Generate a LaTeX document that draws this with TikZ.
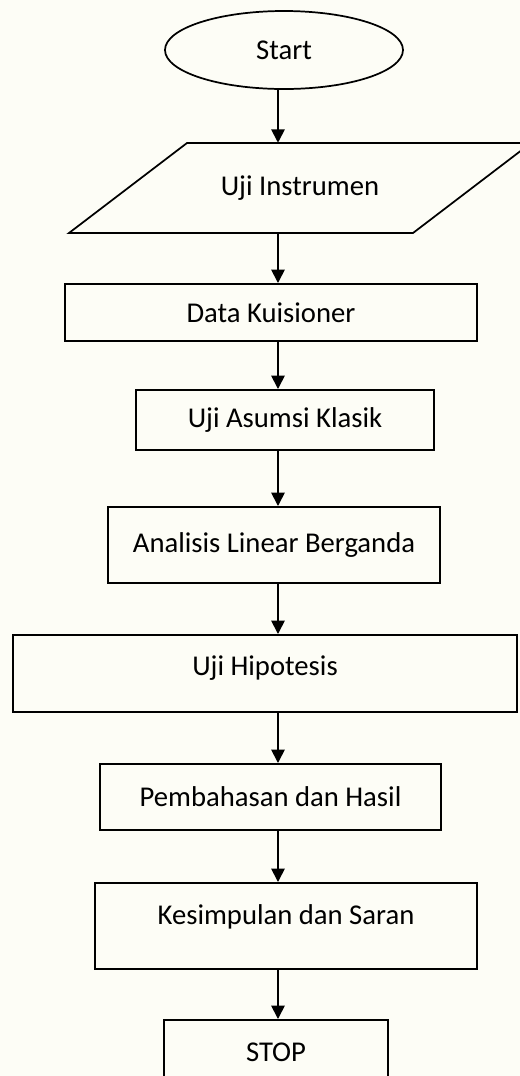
\documentclass[tikz,border=0pt]{standalone}
\usepackage{fontspec}
\setmainfont{Carlito}
\usepackage{tikz}
\usetikzlibrary{positioning, arrows.meta, shapes.geometric}

\definecolor{paper}{RGB}{253,253,246}

\tikzset{
  box/.style={draw=black, line width=1.5pt, rectangle, inner sep=0pt,
              font=\fontsize{21.5}{25}\selectfont},
  oval/.style={draw=black, line width=1.3pt, ellipse, inner sep=0pt,
               minimum width=178.5pt, minimum height=58.5pt,
               font=\fontsize{21.5}{25}\selectfont},
  flow/.style={line width=1.3pt, black, -{Triangle[length=10pt,width=10pt]}}
}

\begin{document}
\begin{tikzpicture}[x=0.75pt,y=-0.75pt]
  \fill[paper] (0,0) rectangle (520,1076);
  \clip (0,0) rectangle (520,1076);

  \node[oval] (start) at (284,50) {Start};

  % input / output block
  \node[font=\fontsize{21.5}{25}\selectfont, minimum height=67.5pt, inner sep=0pt]
       (instr) at (300,188) {Uji Instrumen};
  \draw[line width=1.3pt, black]
       (187,143) -- (531,143) -- (413,233) -- (69,233) -- cycle;

  \node[box, minimum width=309pt,   minimum height=42.75pt] (kuis)    at (271,312.5) {Data Kuisioner};
  \node[box, minimum width=223.5pt, minimum height=45pt]    (asumsi)  at (285,420)   {Uji Asumsi Klasik};
  \node[box, minimum width=249pt,   minimum height=57pt]    (linear)  at (274,545)   {Analisis Linear Berganda};
  \node[box, minimum width=378pt,   minimum height=57.75pt, text depth=12pt] (hipo) at (265,673.5) {Uji Hipotesis};
  \node[box, minimum width=255.75pt,minimum height=49.5pt]  (bahas)   at (270.5,797) {Pembahasan dan Hasil};
  \node[box, minimum width=286.5pt, minimum height=64.5pt, text depth=17pt] (simpul) at (286,926) {Kesimpulan dan Saran};
  \node[box, minimum width=168pt,   minimum height=48pt]    (stop)    at (276,1052)  {STOP};

  % arrows down the middle
  \coordinate (axis) at (278,0);
  \draw[flow] (axis |- start.south)  -- (axis |- instr.north);
  \draw[flow] (axis |- instr.south)  -- (axis |- kuis.north);
  \draw[flow] (axis |- kuis.south)   -- (axis |- asumsi.north);
  \draw[flow] (axis |- asumsi.south) -- (axis |- linear.north);
  \draw[flow] (axis |- linear.south) -- (axis |- hipo.north);
  \draw[flow] (axis |- hipo.south)   -- (axis |- bahas.north);
  \draw[flow] (axis |- bahas.south)  -- (axis |- simpul.north);
  \draw[flow] (axis |- simpul.south) -- (axis |- stop.north);
\end{tikzpicture}
\end{document}
